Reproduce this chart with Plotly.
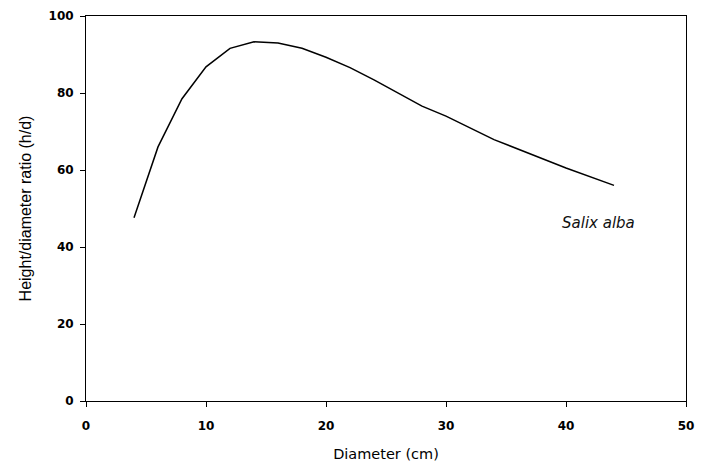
import plotly.graph_objects as go

diameter = [4, 6, 8, 10, 12, 14, 16, 18, 20, 22, 24, 28, 30, 34, 40, 44]
hd_ratio = [47.6, 66.0, 78.5, 86.8, 91.6, 93.3, 93.0, 91.6, 89.3, 86.6, 83.4, 76.6, 74.0, 67.9, 60.5, 56.0]
x_ticks = [0, 10, 20, 30, 40, 50]
y_ticks = [0, 20, 40, 60, 80, 100]
species_label = "Salix alba"

WIDE = "DejaVu Sans, Verdana, sans-serif"
NARROW = "Liberation Sans, Arial, sans-serif"

fig = go.Figure()
fig.add_trace(go.Scatter(x=diameter, y=hd_ratio, mode="lines",
                         line=dict(color="black", width=1.5), showlegend=False,
                         hoverinfo="skip"))

fig.add_annotation(x=42.7, y=46.3, text="<i>" + species_label + "</i>", showarrow=False,
                   font=dict(family=WIDE, size=15, color="#111"))

axis_common = dict(showgrid=False, zeroline=False, showline=True, linecolor="black", linewidth=1,
                   mirror=True, ticks="outside", ticklen=5, tickcolor="black", tickwidth=1,
                   ticklabeloverflow="allow",
                   tickfont=dict(family=WIDE, size=12, color="black", weight="bold"))

fig.update_xaxes(range=[0, 50], tickvals=x_ticks, ticklabelstandoff=9,
                 title=dict(text="Diameter (cm)", standoff=16,
                            font=dict(family=WIDE, size=14.5, color="black")), **axis_common)
fig.update_yaxes(range=[0, 100], tickvals=y_ticks, ticklabelstandoff=4,
                 title=dict(text="Height/diameter ratio (h/d)", standoff=12,
                            font=dict(family=NARROW, size=16, color="black")), **axis_common)

fig.update_layout(width=703, height=469, margin=dict(l=86, r=9, t=13, b=67),
                  plot_bgcolor="white", paper_bgcolor="white")

fig.write_html("out.html", config={"displayModeBar": False},
               post_script="document.body.style.margin='0';")
